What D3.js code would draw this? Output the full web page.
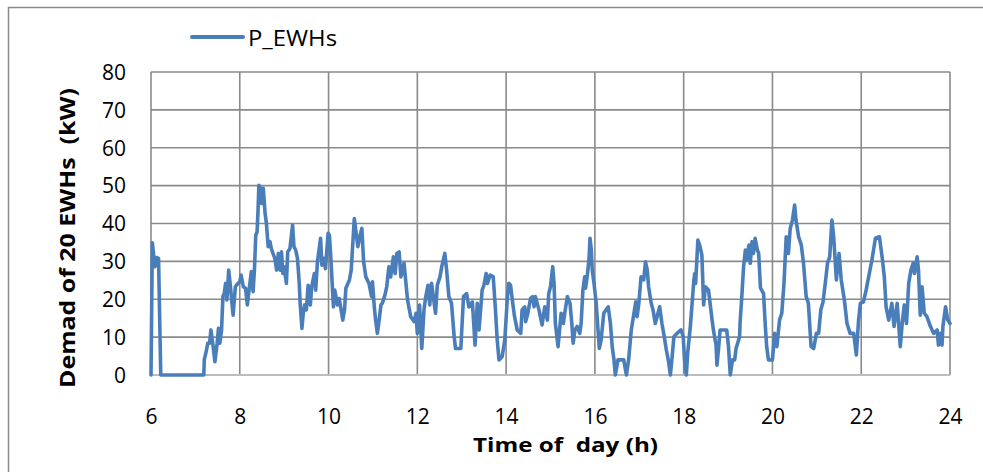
<!DOCTYPE html>
<html>
<head>
<meta charset="utf-8">
<script src="https://cdn.jsdelivr.net/npm/d3@7/dist/d3.min.js"></script>
<style>
  html, body { margin: 0; padding: 0; background: #fff; }
  svg { display: block; font-family: "Open Sans", Lato, sans-serif; }
  text { white-space: pre; }
</style>
</head>
<body>
<svg id="chart" width="983" height="472"></svg>
<script>
// Time of day (h) and demand of 20 electric water heaters (kW)
const hours = [
  6.00, 6.03, 6.09, 6.13, 6.17, 6.22, 7.19, 7.20, 7.25, 7.28, 7.32, 7.35, 7.40, 7.44, 7.49, 7.52, 7.55, 7.59,
  7.62, 7.65, 7.68, 7.71, 7.75, 7.79, 7.82, 7.85, 7.90, 7.96, 8.00, 8.03, 8.08, 8.13, 8.17, 8.20, 8.26, 8.30,
  8.33, 8.36, 8.39, 8.41, 8.43, 8.47, 8.49, 8.53, 8.57, 8.60, 8.64, 8.68, 8.71, 8.76, 8.79, 8.83, 8.87, 8.91,
  8.94, 8.97, 9.00, 9.05, 9.08, 9.13, 9.19, 9.22, 9.26, 9.30, 9.34, 9.36, 9.40, 9.43, 9.46, 9.50, 9.54, 9.59,
  9.62, 9.68, 9.71, 9.75, 9.82, 9.85, 9.89, 9.93, 9.99, 10.02, 10.05, 10.11, 10.14, 10.20, 10.24, 10.32, 10.36,
  10.39, 10.47, 10.51, 10.58, 10.66, 10.72, 10.75, 10.79, 10.84, 10.91, 10.97, 10.99, 11.03, 11.06, 11.10,
  11.14, 11.18, 11.21, 11.27, 11.31, 11.36, 11.40, 11.46, 11.50, 11.54, 11.59, 11.63, 11.70, 11.78, 11.85,
  11.93, 11.97, 12.00, 12.05, 12.10, 12.15, 12.19, 12.24, 12.28, 12.32, 12.41, 12.45, 12.51, 12.55, 12.62,
  12.66, 12.71, 12.77, 12.83, 12.86, 12.98, 13.04, 13.11, 13.16, 13.24, 13.30, 13.35, 13.39, 13.46, 13.50,
  13.55, 13.58, 13.64, 13.71, 13.76, 13.80, 13.84, 13.91, 13.97, 14.03, 14.06, 14.10, 14.15, 14.19, 14.25,
  14.33, 14.36, 14.42, 14.44, 14.49, 14.55, 14.60, 14.63, 14.66, 14.74, 14.81, 14.87, 14.93, 14.96, 15.00,
  15.05, 15.08, 15.11, 15.17, 15.24, 15.29, 15.32, 15.38, 15.44, 15.48, 15.51, 15.55, 15.60, 15.66, 15.69,
  15.73, 15.77, 15.79, 15.83, 15.85, 15.87, 15.89, 15.92, 15.94, 15.98, 16.03, 16.07, 16.10, 16.14, 16.20,
  16.30, 16.35, 16.39, 16.43, 16.46, 16.52, 16.65, 16.71, 16.76, 16.82, 16.88, 16.92, 16.95, 16.99, 17.04,
  17.10, 17.14, 17.18, 17.21, 17.27, 17.31, 17.36, 17.46, 17.51, 17.55, 17.61, 17.66, 17.70, 17.74, 17.78,
  17.85, 17.94, 17.99, 18.02, 18.06, 18.09, 18.15, 18.19, 18.23, 18.25, 18.27, 18.32, 18.36, 18.41, 18.45,
  18.49, 18.56, 18.64, 18.67, 18.73, 18.75, 18.79, 18.82, 18.97, 19.01, 19.05, 19.10, 19.15, 19.18, 19.26,
  19.27, 19.31, 19.35, 19.39, 19.42, 19.47, 19.50, 19.54, 19.57, 19.61, 19.66, 19.69, 19.73, 19.80, 19.84,
  19.87, 19.91, 20.00, 20.05, 20.10, 20.16, 20.21, 20.26, 20.31, 20.36, 20.40, 20.45, 20.50, 20.53, 20.59,
  20.65, 20.70, 20.76, 20.81, 20.87, 20.93, 20.99, 21.04, 21.09, 21.14, 21.19, 21.24, 21.29, 21.34, 21.38,
  21.44, 21.50, 21.55, 21.62, 21.68, 21.75, 21.83, 21.89, 21.94, 21.98, 22.05, 22.11, 22.24, 22.32, 22.41,
  22.47, 22.52, 22.56, 22.62, 22.69, 22.74, 22.81, 22.88, 22.93, 22.97, 23.02, 23.07, 23.12, 23.17, 23.20,
  23.26, 23.29, 23.33, 23.37, 23.42, 23.48, 23.56, 23.63, 23.71, 23.74, 23.78, 23.82, 23.84, 23.90, 23.95, 24.00
];

const demand = [
  0, 34.9, 28.6, 31.0, 30.8, 0, 0, 4.0, 6.6, 8.4, 8.4, 11.9, 7.5, 3.5, 8.4, 12.3, 8.4, 11.9,
  20.7, 21.5, 24.2, 19.8, 27.7, 23.3, 19.3, 15.8, 23.3, 24.2, 24.6, 26.4, 23.3, 22.9, 18.5, 21.5, 27.3, 22.0,
  27.7, 36.9, 37.8, 43.1, 50.1, 49.3, 45.3, 49.3, 42.7, 40.0, 33.9, 35.2, 33.4, 31.7, 30.8, 27.7, 32.1, 27.7,
  32.5, 26.8, 28.6, 24.2, 32.5, 33.4, 39.6, 33.9, 33.0, 30.8, 24.2, 18.9, 12.3, 16.3, 18.5, 17.2, 23.7, 18.5,
  23.3, 26.8, 22.4, 29.9, 36.1, 29.0, 30.8, 28.1, 37.4, 36.9, 31.2, 18.0, 22.4, 18.5, 20.2, 14.5, 17.2,
  22.9, 25.1, 27.7, 41.3, 33.9, 37.4, 38.7, 29.9, 25.9, 24.2, 20.7, 24.6, 18.0, 14.5, 11.0,
  14.5, 18.5, 18.9, 21.1, 23.3, 28.6, 25.9, 31.2, 26.8, 32.1, 32.5, 25.9, 29.5, 19.8, 15.4,
  14.1, 16.3, 11.0, 18.5, 7.0, 17.2, 20.7, 23.7, 18.5, 24.2, 16.3, 23.7, 25.9, 28.6, 32.1,
  27.7, 20.7, 18.9, 10.1, 7.0, 7.0, 20.7, 21.5, 18.0, 19.3, 7.9, 18.9, 11.9, 22.4, 23.7,
  26.8, 24.2, 26.4, 25.9, 17.2, 9.2, 4.0, 4.8, 9.2, 20.7, 24.2, 23.7, 18.9, 15.4, 11.9,
  11.0, 17.2, 18.0, 14.1, 16.3, 20.2, 20.7, 18.0, 20.7, 17.2, 13.2, 18.0, 14.5, 21.5, 23.3,
  28.6, 24.2, 13.6, 7.5, 16.3, 13.6, 16.3, 20.7, 18.9, 13.6, 8.4, 11.9, 12.8, 11.0, 13.6,
  22.4, 25.9, 22.9, 26.4, 28.6, 31.2, 36.1, 33.0, 27.7, 24.2, 18.9, 11.9, 7.0, 9.2, 16.3,
  18.0, 13.6, 7.5, 4.0, 0, 4.0, 4.0, 0, 4.0, 11.9, 16.3, 19.3, 15.4, 18.9, 25.9,
  25.1, 29.9, 27.7, 23.3, 18.9, 17.2, 13.6, 18.0, 13.6, 11.0, 6.6, 3.5, 0, 4.8, 10.1,
  11.0, 11.9, 10.1, 4.0, 0, 5.7, 12.8, 18.9, 25.1, 26.8, 24.2, 35.6, 34.3, 31.7, 18.5,
  23.3, 22.4, 14.5, 11.9, 7.9, 2.6, 7.5, 11.9, 11.9, 7.5, 0, 4.0, 4.0, 7.0, 10.1,
  13.6, 20.7, 28.6, 33.0, 30.3, 34.3, 29.5, 35.2, 32.1, 36.1, 33.0, 32.1, 23.0, 21.5, 12.8,
  7.5, 4.0, 4.0, 11.0, 7.5, 14.5, 16.3, 24.2, 36.5, 32.1, 38.7, 40.9, 44.9, 40.9, 36.5,
  34.3, 29.5, 20.7, 18.9, 7.5, 7.0, 11.0, 11.0, 17.2, 19.3, 24.2, 29.5, 31.2, 40.9, 36.5,
  25.1, 32.1, 25.1, 19.8, 13.6, 11.0, 11.0, 5.3, 14.5, 18.9, 19.3, 22.4, 30.3, 36.1, 36.5,
  31.2, 25.9, 18.0, 14.5, 18.9, 12.8, 18.9, 7.5, 14.5, 18.5, 13.6, 24.2, 27.7, 29.5, 26.8,
  31.2, 27.7, 15.8, 23.3, 16.3, 15.4, 12.8, 11.0, 11.9, 7.9, 11.0, 7.9, 12.8, 18.0, 14.5, 13.6
];

const xTicks = [6, 8, 10, 12, 14, 16, 18, 20, 22, 24];
const yTicks = [0, 10, 20, 30, 40, 50, 60, 70, 80];
const seriesName = "P_EWHs";
const xTitle = "Time of  day (h)";
const yTitle = "Demad of 20 EWHs  (kW)";

const svg = d3.select("#chart");
const plot = { left: 151, right: 950, top: 72, bottom: 375 };

const x = d3.scaleLinear().domain([6, 24]).range([plot.left, plot.right]);
const y = d3.scaleLinear().domain([0, 80]).range([plot.bottom, plot.top]);

// chart area frame
svg.append("rect")
  .attr("x", 8.5).attr("y", 7.5)
  .attr("width", 1000).attr("height", 500)
  .attr("fill", "none").attr("stroke", "#8c8c8c").attr("stroke-width", 1.5);

// gridlines
const grid = svg.append("g");
grid.selectAll("line.h").data(yTicks.filter(d => d > 0)).join("line")
  .attr("class", "h")
  .attr("x1", plot.left).attr("x2", plot.right)
  .attr("y1", d => y(d)).attr("y2", d => y(d))
  .attr("stroke", "#8a8a8a").attr("stroke-width", 1.6);
grid.selectAll("line.v").data(xTicks).join("line")
  .attr("class", "v")
  .attr("x1", d => x(d)).attr("x2", d => x(d))
  .attr("y1", plot.top).attr("y2", plot.bottom)
  .attr("stroke", "#8a8a8a").attr("stroke-width", 1.6);
// horizontal axis line
grid.append("line")
  .attr("x1", plot.left).attr("x2", plot.right)
  .attr("y1", y(0)).attr("y2", y(0))
  .attr("stroke", "#bdbdbd").attr("stroke-width", 2);

// axes (labels only)
const xAxis = d3.axisBottom(x).tickValues(xTicks).tickSize(0).tickPadding(0).tickFormat(d3.format("d"));
const gx = svg.append("g").attr("transform", `translate(0,${plot.bottom})`).call(xAxis);
gx.select(".domain").remove();
gx.selectAll("text")
  .attr("y", 49).attr("dy", null)
  .attr("font-family", "'Open Sans', sans-serif").attr("font-size", 21).attr("fill", "#000");

const yAxis = d3.axisLeft(y).tickValues(yTicks).tickSize(0).tickPadding(0).tickFormat(d3.format("d"));
const gy = svg.append("g").attr("transform", `translate(${plot.left},0)`).call(yAxis);
gy.select(".domain").remove();
gy.selectAll("text")
  .attr("x", -25).attr("dy", "0.35em")
  .attr("font-family", "'Open Sans', sans-serif").attr("font-size", 21).attr("fill", "#000");

// series line
const line = d3.line().x((d, i) => x(hours[i])).y(d => y(d));
svg.append("path")
  .attr("d", line(demand))
  .attr("fill", "none")
  .attr("stroke", "#4a7ebb")
  .attr("stroke-width", 3.6)
  .attr("stroke-linejoin", "round")
  .attr("stroke-linecap", "round");

// legend
const legend = svg.append("g");
legend.append("line")
  .attr("x1", 192).attr("x2", 243).attr("y1", 37).attr("y2", 37)
  .attr("stroke", "#4a7ebb").attr("stroke-width", 4).attr("stroke-linecap", "round");
legend.append("text")
  .attr("x", 248).attr("y", 45.5)
  .attr("font-size", 21).attr("fill", "#000")
  .attr("textLength", 89).attr("lengthAdjust", "spacingAndGlyphs")
  .text(seriesName);

// axis titles
svg.append("text")
  .attr("x", 473).attr("y", 452)
  .attr("font-size", 20).attr("font-weight", "bold").attr("fill", "#000")
  .attr("textLength", 185).attr("lengthAdjust", "spacingAndGlyphs")
  .text(xTitle);

svg.append("text")
  .attr("transform", "translate(75,388) rotate(-90)")
  .attr("font-size", 21).attr("font-weight", "bold").attr("fill", "#000")
  .attr("textLength", 300).attr("lengthAdjust", "spacingAndGlyphs")
  .text(yTitle);
</script>
</body>
</html>
